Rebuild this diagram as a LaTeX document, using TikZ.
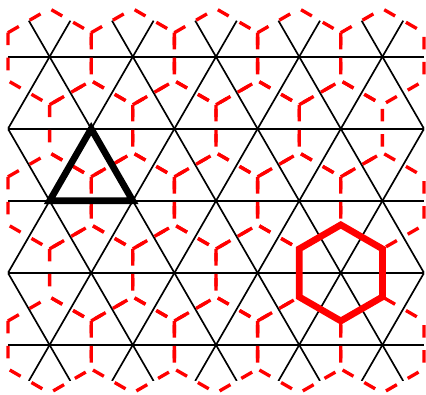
\documentclass[tikz,border=0pt]{standalone}
\usepackage{tikz}

\begin{document}
\begin{tikzpicture}[scale=0.7, gridline/.style={thin, black}, hexline/.style={red, thick, dashed}]
      \pgfmathsetmacro\rowh{sqrt(3)/2} \pgfmathsetmacro\hexr{1/sqrt(3)}
      \useasboundingbox (-0.096,-0.168) rectangle (5.024,4.579);
      \begin{scope}
        \clip (0,0) rectangle (5,{5*\rowh});
        \foreach \k in {0,...,4} \draw[gridline] (0,{(\k+0.5)*\rowh}) -- (5,{(\k+0.5)*\rowh});
        \foreach \n in {-3,...,8} {
          \draw[gridline] (\n+0.25,0) -- ++(60:5);
          \draw[gridline] (\n+0.75,0) -- ++(120:5);
        }
      \end{scope}
      \foreach \k/\s/\m in {0/0.5/4, 1/1/3, 2/0.5/4, 3/1/3, 4/0.5/4}
        \foreach \i in {0,...,\m}
          \draw[hexline] (\i+\s,{(\k+0.5)*\rowh}) +(150:\hexr) -- +(90:\hexr) -- +(30:\hexr) -- +(-30:\hexr) -- +(-90:\hexr) -- +(-150:\hexr) -- cycle;
      \draw[ultra thick] (0.5,{2.5*\rowh}) -- (1.5,{2.5*\rowh}) -- (1,{3.5*\rowh}) -- cycle;
      \draw[ultra thick, red] (4,{1.5*\rowh}) +(150:\hexr) -- +(90:\hexr) -- +(30:\hexr) -- +(-30:\hexr) -- +(-90:\hexr) -- +(-150:\hexr) -- cycle;
    \end{tikzpicture}
\end{document}
